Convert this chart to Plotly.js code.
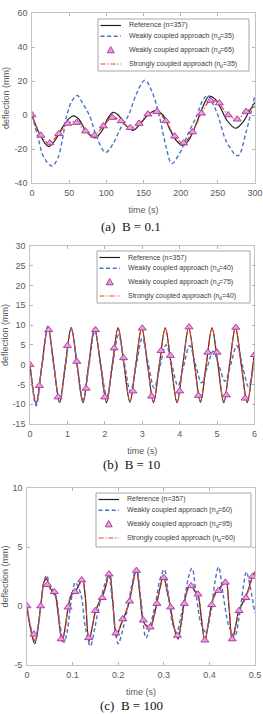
<!DOCTYPE html>
<html><head><meta charset="utf-8">
<script src="https://cdn.plot.ly/plotly-3.0.1.min.js"></script>
<style>html,body{margin:0;padding:0;background:#fff;}#chart{width:263px;height:714px;}</style>
</head><body><div id="chart"></div>
<script>
// ===== Panel (a)  B = 0.1 =====
const refT_a = [0,10,22,30,40,50,56,63,72,84,93,102,109,116,125,136,146,156,167,176,185,194,203,212,222,230,238,246,254,262,274,284,292,300];
const refV_a = [0,-11,-18.5,-15.5,-8,-2,-0.5,-2.5,-9,-13.5,-10,-2,1.5,0,-5.5,-9,-5,0,2.7,0,-8,-15,-18,-14,-4,5,11,9.5,4,-3,-7.8,-4,2,7.5];
const weakT_a = [0,8,16,27,35,41,47,54,61,68,77,88,99,109,119,130,141,152,162,171,180,188,198,210,222,229,236,243,250,262,277,288,300];
const weakV_a = [0,-13,-25,-30,-25,-14,0,8.5,11.5,7,0,-14,-22,-17,-8,0,13,20.5,13,0,-18,-28.5,-23,-11,0,8,11.5,7,0,-16,-24,-10,12];
const triT_a = [0,12,24,36,48,60,72,84,96,108,120,132,144,156,168,180,192,204,216,228,240,252,264,276,288];
const triV_a = [0,-12,-16.5,-11,-5,-4.5,-9.5,-12,-6.5,-1.5,-3.5,-7.5,-5,0.5,2,-3.5,-12.5,-16.5,-10,1,8.5,7,0,-2.5,2];
const strongT_a = [0,12,22,36,48,58,72,82,96,108,120,132,144,156,167,180,192,203,216,228,240,250,264,276,288,300];
const strongV_a = [0,-12,-16.5,-11,-5,-4,-9.5,-12,-6.5,-1.5,-3.5,-7.5,-5,0.5,2,-3.5,-12.5,-16.5,-10,1,8.5,7.5,0,-2.5,2,5];
const xTicks_a = [0,50,100,150,200,250,300];
const xTickText_a = ['0','50','100','150','200','250','300'];
const yTicks_a = [-40,-20,0,20,40,60];
const yTickText_a = ['-40','-20','0','20','40','60'];
// "|d|" marks the subscript d
const labels_a = ['Reference (n=357)','Weakly coupled approach (n|d|=35)','Weakly coupled approach (n|d|=65)','Strongly coupled approach (n|d|=35)'];
const caption_a = '(a)\u00a0\u00a0B = 0.1';

// ===== Panel (b)  B = 10 =====
const curveT_b = [0,0.165,0.32,0.48,0.635,0.79,0.945,1.1,1.257,1.415,1.57,1.725,1.885,2.045,2.2,2.355,2.512,2.67,2.827,2.985,3.142,3.3,3.457,3.615,3.772,3.93,4.085,4.24,4.397,4.555,4.71,4.865,5.022,5.18,5.335,5.49,5.647,5.805,5.96,6.0];
const refV_b = [0,-9.8,0,9.6,0,-9.5,0,9.4,0,-9.6,0,9.3,0,-9.6,0,9.3,0,-9.5,0,9.4,0,-9.6,0,9.3,0,-9.6,0,9.4,0,-9.5,0,9.3,0,-9.6,0,9.5,0,-9.6,0,3];
const strongV_b = [0,-9.3,0,9.1,0,-9.2,0,9.1,0,-9.3,0,9.0,0,-9.3,0,9.1,0,-9.2,0,9.1,0,-9.3,0,9.1,0,-9.3,0,9.2,0,-9.2,0,9.1,0,-9.3,0,9.2,0,-9.3,0,3];
const weakT_b = [0,0.165,0.32,0.48,0.635,0.792,0.948,1.104,1.262,1.42,1.577,1.733,1.893,2.053,2.21,2.366,2.524,2.683,2.842,3.0,3.158,3.318,3.476,3.635,3.795,3.953,4.11,4.267,4.425,4.585,4.742,4.895,5.055,5.213,5.37,5.525,5.683,5.84,6.0];
const weakV_b = [0,-10.4,-0.3,9.7,0,-9.5,-0.2,9.0,0,-8.8,-0.1,8.5,0,-8.0,-0.2,7.5,0.3,-6.8,0,6.7,0.4,-5.9,-0.4,5.0,-0.2,-5.3,-0.2,4.8,0,-4.6,-0.5,3.4,-0.4,-4.2,0.2,4.8,-0.4,-5.6,1.5];
const triT_b = [0,0.25,0.5,0.75,1,1.25,1.5,1.75,2,2.25,2.5,2.75,3,3.25,3.5,3.75,4,4.25,4.5,4.75,5,5.25,5.5,5.75,6];
const triV_b = [0,-5.3,8.8,-8.2,4.8,0.8,-6,8.8,-8.2,4.2,1.7,-6.7,9.2,-8,3.5,2.3,-6.7,9.5,-7.8,3.1,3.1,-7.7,9.4,-8.5,2.5];
const xTicks_b = [0,1,2,3,4,5,6];
const xTickText_b = ['0','1','2','3','4','5','6'];
const yTicks_b = [-15,-10,-5,0,5,10,15,20,25,30];
const yTickText_b = ['-15','-10','-5','0','5','10','15','20','25','30'];
const labels_b = ['Reference (n=357)','Weakly coupled approach (n|d|=40)','Weakly coupled approach (n|d|=75)','Strongly coupled approach (n|d|=40)'];
const caption_b = '(b)\u00a0\u00a0B = 10';

// ===== Panel (c)  B = 100 =====
const curveT_c = [0,0.007,0.017,0.024,0.03,0.037,0.042,0.05,0.057,0.062,0.068,0.077,0.083,0.09,0.097,0.105,0.113,0.121,0.127,0.136,0.143,0.15,0.158,0.165,0.172,0.181,0.188,0.196,0.203,0.21,0.218,0.225,0.233,0.24,0.247,0.255,0.262,0.27,0.278,0.285,0.292,0.299,0.307,0.315,0.323,0.331,0.338,0.345,0.353,0.36,0.367,0.375,0.382,0.39,0.397,0.405,0.412,0.42,0.428,0.436,0.443,0.45,0.458,0.465,0.472,0.48,0.488,0.495,0.5];
const refV_c = [0,-1.8,-3.2,-1.9,0,2.0,2.3,1.6,1.1,0.9,-0.6,-3.0,-2.0,-0.2,0.9,1.2,1.7,2.4,1.1,-3.0,-1.8,-0.5,0.3,0.8,1.6,2.9,0.4,-2.6,-1.9,-1.2,-0.4,0.5,2.1,3.1,1.2,-1.3,-1.7,-1.9,-0.9,0.3,1.6,2.6,1.3,-0.2,-1.9,-2.8,-1.5,0.3,1.5,1.8,1.3,0.9,-0.9,-3.0,-1.6,0.2,1.0,1.4,1.8,2.2,-0.1,-2.9,-1.6,-0.3,0.2,0.8,1.7,2.6,2.9];
const strongV_c = [0,-1.6,-3.0,-1.8,0,2.0,2.4,1.5,1.1,1.0,-0.5,-2.9,-2.0,-0.1,1.0,1.2,1.6,2.3,1.2,-2.9,-1.8,-0.4,0.3,0.7,1.5,2.8,0.5,-2.5,-1.9,-1.1,-0.4,0.4,2.0,3.0,1.3,-1.2,-1.6,-1.9,-1.0,0.2,1.5,2.5,1.4,-0.1,-1.8,-2.7,-1.5,0.2,1.4,1.7,1.4,1.0,-0.8,-2.9,-1.6,0.1,0.9,1.3,1.7,2.1,0,-2.8,-1.6,-0.4,0.1,0.7,1.6,2.5,2.8];
const weakT_c = [0,0.007,0.018,0.025,0.031,0.038,0.043,0.05,0.058,0.065,0.072,0.081,0.088,0.094,0.1,0.106,0.118,0.128,0.139,0.147,0.155,0.163,0.172,0.179,0.187,0.2,0.21,0.22,0.23,0.24,0.25,0.261,0.272,0.283,0.292,0.301,0.31,0.32,0.328,0.338,0.348,0.356,0.362,0.371,0.381,0.392,0.403,0.412,0.42,0.43,0.442,0.455,0.465,0.474,0.481,0.49,0.5];
const weakV_c = [0,-1.6,-3.0,-1.6,0.2,2.2,2.6,1.8,1.3,0.6,-1.5,-3.1,-2.2,-0.4,1.2,2.0,1.0,-1.8,-3.4,-2.2,-0.6,0.8,2.0,2.6,0.5,-3.2,-2.0,-0.3,1.8,3.2,0.5,-2.7,-1.4,0.5,2.3,3.1,1.0,-1.6,-2.2,-0.8,1.2,2.7,3.2,1.0,-1.4,-2.2,-0.6,2.0,3.3,1.0,-1.6,-2.6,-1.0,1.5,2.9,1.5,-0.6];
const triT_c = [0,0.015,0.03,0.045,0.06,0.075,0.09,0.105,0.12,0.135,0.15,0.165,0.18,0.195,0.21,0.225,0.24,0.255,0.27,0.285,0.3,0.315,0.33,0.345,0.36,0.375,0.39,0.405,0.42,0.435,0.45,0.465,0.48,0.495];
const triV_c = [0,-2.4,0,1.8,1.2,-2.8,-0.1,1.2,2.2,-2.7,-0.4,0.7,2.7,-2.3,-1.1,0.4,3.0,-1.2,-1.8,0.2,2.4,-0.1,-2.5,0.2,1.7,1.0,-2.9,0.1,1.3,2.0,-2.8,-0.4,0.7,2.5];
const xTicks_c = [0,0.1,0.2,0.3,0.4,0.5];
const xTickText_c = ['0','0.1','0.2','0.3','0.4','0.5'];
const yTicks_c = [-5,0,5,10];
const yTickText_c = ['-5','0','5','10'];
const labels_c = ['Reference (n=357)','Weakly coupled approach (n|d|=60)','Weakly coupled approach (n|d|=95)','Strongly coupled approach (n|d|=60)'];
const caption_c = '(c)\u00a0\u00a0B = 100';

const xTitle = 'time (s)';
const yTitle = 'deflection (mm)';

// ===== styling / layout =====
const W = 263, H = 714;
const fx = p => p / W;
const fy = p => 1 - p / H;
const SANS = 'Liberation Sans, Arial, sans-serif';
const COL = {ref:'#1e1e1e', weak:'#4a72c6', triFill:'#e4a2dc', triLine:'#b23aa3', strong:'#e8432e'};
const DASH_WEAK = '4px,2.6px';
const DASH_STRONG = '5px,1.8px,1.3px,1.8px';
const LEG_FONT = 7, SUB_FONT = 5;

const measureCtx = document.createElement('canvas').getContext('2d');
function textWidth(str, size) {
  measureCtx.font = size + 'px "Liberation Sans", Arial, sans-serif';
  return measureCtx.measureText(str).width;
}

function curveTraces(ax, ay, refT, refV, weakT, weakV, triT, triV, strT, strV) {
  return [
    {x: refT, y: refV, xaxis: ax, yaxis: ay, mode: 'lines', line: {color: COL.ref, width: 1.2, shape: 'spline', smoothing: 1}, hoverinfo: 'skip'},
    {x: weakT, y: weakV, xaxis: ax, yaxis: ay, mode: 'lines', line: {color: COL.weak, width: 1.4, dash: DASH_WEAK, shape: 'spline', smoothing: 1}, hoverinfo: 'skip'},
    {x: strT, y: strV, xaxis: ax, yaxis: ay, mode: 'lines', line: {color: COL.strong, width: 1.2, dash: DASH_STRONG, shape: 'spline', smoothing: 1}, hoverinfo: 'skip'},
    {x: triT, y: triV, xaxis: ax, yaxis: ay, mode: 'markers', marker: {symbol: 'triangle-up', size: 7, color: COL.triFill, line: {color: COL.triLine, width: 1}}, hoverinfo: 'skip'}
  ];
}

const data = [].concat(
  curveTraces('x', 'y', refT_a, refV_a, weakT_a, weakV_a, triT_a, triV_a, strongT_a, strongV_a),
  curveTraces('x2', 'y2', curveT_b, refV_b, weakT_b, weakV_b, triT_b, triV_b, curveT_b, strongV_b),
  curveTraces('x3', 'y3', curveT_c, refV_c, weakT_c, weakV_c, triT_c, triV_c, curveT_c, strongV_c)
);

const panels = [
  {L: 32, R: 255, T: 13, B: 183, xr: [0, 300], yr: [-40, 60], xt: xTicks_a, xtt: xTickText_a, yt: yTicks_a, ytt: yTickText_a, leg: [98, 19, 249, 71], labels: labels_a, cap: caption_a, capY: 226},
  {L: 30, R: 254.5, T: 246, B: 424, xr: [0, 6], yr: [-15, 30], xt: xTicks_b, xtt: xTickText_b, yt: yTicks_b, ytt: yTickText_b, leg: [97, 251, 250, 303], labels: labels_b, cap: caption_b, capY: 464},
  {L: 27, R: 255, T: 488, B: 665, xr: [0, 0.5], yr: [-5, 10], xt: xTicks_c, xtt: xTickText_c, yt: yTicks_c, ytt: yTickText_c, leg: [96, 493, 251, 547], labels: labels_c, cap: caption_c, capY: 705}
];

const layout = {
  width: W, height: H, margin: {l: 0, r: 0, t: 0, b: 0},
  paper_bgcolor: '#ffffff', plot_bgcolor: '#ffffff', showlegend: false,
  font: {family: SANS, size: 9, color: '#555555'},
  shapes: [], annotations: []
};

const axCommon = {
  tickmode: 'array', ticks: 'inside', ticklen: 3, tickwidth: 0.8, tickcolor: '#a0a0a0',
  showline: true, linecolor: '#b4b4b4', linewidth: 0.8, mirror: 'ticks',
  showgrid: false, zeroline: false, fixedrange: true,
  tickfont: {family: SANS, size: 9, color: '#5a5a5a'}
};

const legendRows = [6.5, 17.2, 31, 45];

function addText(x, y, text, size) {
  layout.annotations.push({xref: 'paper', yref: 'paper', x: fx(x), y: fy(y), xanchor: 'left', yanchor: 'middle',
    text: text, showarrow: false, borderwidth: 0, borderpad: 0,
    font: {family: SANS, size: size, color: '#3c3c3c'}});
}

panels.forEach((p, i) => {
  const n = i === 0 ? '' : String(i + 1);
  layout['xaxis' + n] = Object.assign({}, axCommon, {
    domain: [fx(p.L), fx(p.R)], range: p.xr, tickvals: p.xt, ticktext: p.xtt,
    anchor: 'y' + n, ticklabelstandoff: 1,
    title: {text: xTitle, font: {family: SANS, size: 9, color: '#5a5a5a'}, standoff: 10}
  });
  layout['yaxis' + n] = Object.assign({}, axCommon, {
    domain: [fy(p.B), fy(p.T)], range: p.yr, tickvals: p.yt, ticktext: p.ytt,
    anchor: 'x' + n, ticklabelstandoff: 2,
    title: {text: yTitle, font: {family: SANS, size: 9, color: '#5a5a5a'}, standoff: 3}
  });

  // legend (box, samples, labels)
  const [L, T, R, B] = p.leg;
  layout.shapes.push({type: 'rect', xref: 'paper', yref: 'paper', x0: fx(L), x1: fx(R), y0: fy(B), y1: fy(T),
    line: {color: '#8f8f8f', width: 0.8}, fillcolor: '#ffffff', layer: 'above'});
  const s0 = L + 2.5, s1 = L + 23, cx = (s0 + s1) / 2;
  const ry = legendRows.map(r => T + r);
  layout.shapes.push({type: 'line', xref: 'paper', yref: 'paper', x0: fx(s0), x1: fx(s1), y0: fy(ry[0]), y1: fy(ry[0]), line: {color: COL.ref, width: 1.2}, layer: 'above'});
  layout.shapes.push({type: 'line', xref: 'paper', yref: 'paper', x0: fx(s0), x1: fx(s1), y0: fy(ry[1]), y1: fy(ry[1]), line: {color: COL.weak, width: 1.4, dash: DASH_WEAK}, layer: 'above'});
  layout.shapes.push({type: 'path', xref: 'paper', yref: 'paper', layer: 'above',
    path: 'M ' + fx(cx - 3.5) + ',' + fy(ry[2] + 2.8) + ' L ' + fx(cx + 3.5) + ',' + fy(ry[2] + 2.8) + ' L ' + fx(cx) + ',' + fy(ry[2] - 3.4) + ' Z',
    fillcolor: COL.triFill, line: {color: COL.triLine, width: 1}});
  layout.shapes.push({type: 'line', xref: 'paper', yref: 'paper', x0: fx(s0), x1: fx(s1), y0: fy(ry[3]), y1: fy(ry[3]), line: {color: COL.strong, width: 1.2, dash: DASH_STRONG}, layer: 'above'});
  p.labels.forEach((lab, k) => {
    const parts = lab.split('|');
    let x = L + 31;
    addText(x, ry[k], parts[0], LEG_FONT);
    if (parts.length === 3) {
      x += textWidth(parts[0], LEG_FONT);
      addText(x, ry[k] + 2, parts[1], SUB_FONT);
      x += textWidth(parts[1], SUB_FONT);
      addText(x, ry[k], parts[2], LEG_FONT);
    }
  });
  // caption
  layout.annotations.push({xref: 'paper', yref: 'paper', x: fx(131), y: fy(p.capY), xanchor: 'center', yanchor: 'middle',
    text: p.cap, showarrow: false, font: {family: 'Liberation Serif, Times New Roman, serif', size: 13, color: '#111111'}});
});

Plotly.newPlot('chart', data, layout, {staticPlot: true, displayModeBar: false});
</script>
</body></html>
